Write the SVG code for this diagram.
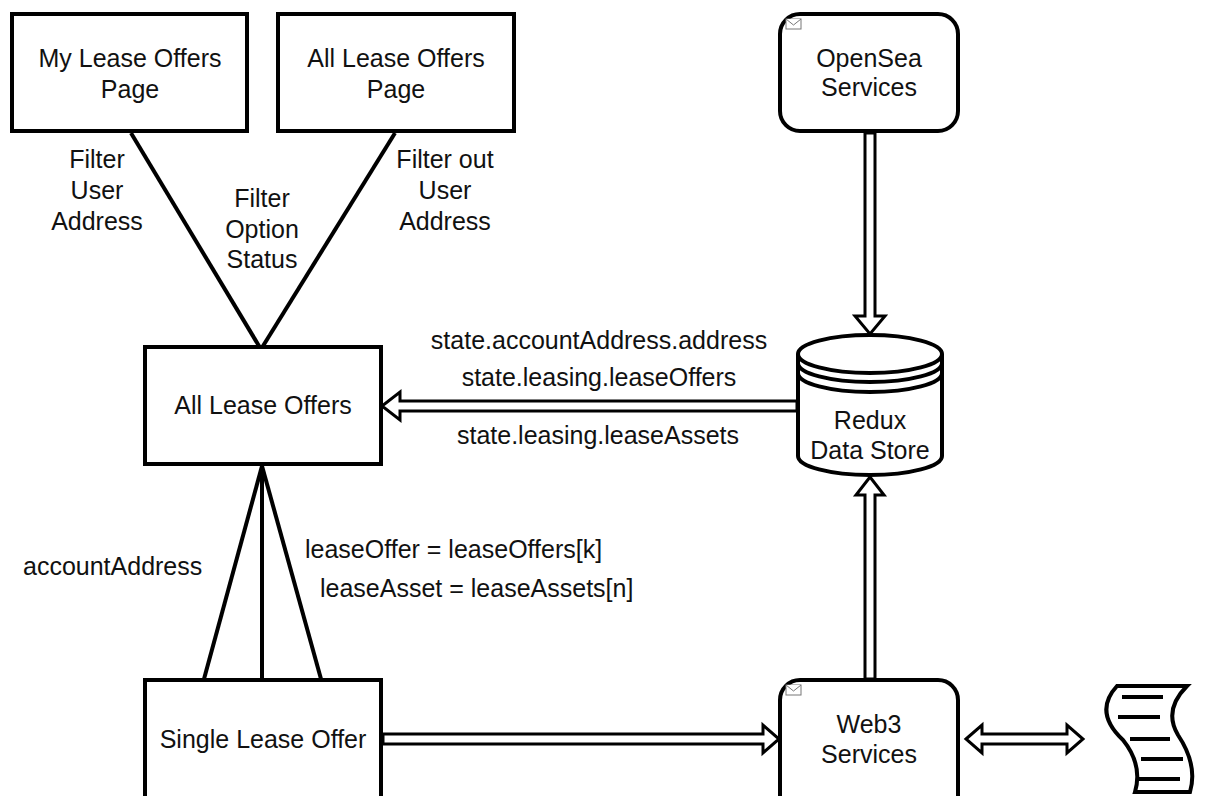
<svg xmlns="http://www.w3.org/2000/svg" width="1210" height="796" viewBox="0 0 1210 796">
<style>
  .box { fill: #ffffff; stroke: #000000; stroke-width: 4; }
  .line { fill: none; stroke: #000000; stroke-width: 4; }
  .flex { fill: #ffffff; stroke: #000000; stroke-width: 3; stroke-linejoin: miter; }
  .env { fill: #ffffff; stroke: #777777; stroke-width: 1; }
  .t { font-family: "Liberation Sans", Arial, sans-serif; font-size: 25px; fill: #111111; text-anchor: middle; }
  .ts { font-family: "Liberation Sans", Arial, sans-serif; font-size: 25px; fill: #111111; text-anchor: start; }
</style>
<rect width="1210" height="796" fill="#ffffff"/>

<g id="connectors">
  <line class="line" x1="131" y1="133" x2="259" y2="346"/>
  <line class="line" x1="395" y1="133" x2="263" y2="346"/>
  <line class="line" x1="262" y1="466" x2="204" y2="679"/>
  <line class="line" x1="262" y1="466" x2="262" y2="679"/>
  <line class="line" x1="262" y1="466" x2="321" y2="679"/>
  <polygon class="flex" points="797,401 400,401 400,392 382,406 400,420 400,411 797,411"/>
  <polygon class="flex" points="865,133 865,316 855,316 870,334 885,316 875,316 875,133"/>
  <polygon class="flex" points="865,679 865,495 856,495 870,477 884,495 875,495 875,679"/>
  <polygon class="flex" points="383,734 763,734 763,725 779,739 763,753 763,744 383,744"/>
  <polygon class="flex" points="966,739 982,725 982,734 1067,734 1067,725 1083,739 1067,753 1067,744 982,744 982,753"/>
  <text class="t" x="97" y="168">Filter</text>
  <text class="t" x="97" y="199">User</text>
  <text class="t" x="97" y="230">Address</text>
  <text class="t" x="262" y="207">Filter</text>
  <text class="t" x="262" y="238">Option</text>
  <text class="t" x="262" y="268">Status</text>
  <text class="t" x="445" y="168">Filter out</text>
  <text class="t" x="445" y="199">User</text>
  <text class="t" x="445" y="230">Address</text>
  <text class="t" x="599" y="349">state.accountAddress.address</text>
  <text class="t" x="599" y="386">state.leasing.leaseOffers</text>
  <text class="t" x="598" y="444">state.leasing.leaseAssets</text>
  <text class="ts" x="23" y="575">accountAddress</text>
  <text class="ts" x="305" y="558">leaseOffer = leaseOffers[k]</text>
  <text class="ts" x="320" y="597">leaseAsset = leaseAssets[n]</text>
</g>

<g id="my-lease-offers-page">
  <rect class="box" x="12" y="14" width="235" height="117"/>
  <text class="t" x="130" y="67">My Lease Offers</text>
  <text class="t" x="130" y="98">Page</text>
</g>

<g id="all-lease-offers-page">
  <rect class="box" x="278" y="14" width="236" height="117"/>
  <text class="t" x="396" y="67">All Lease Offers</text>
  <text class="t" x="396" y="98">Page</text>
</g>

<g id="opensea-services">
  <rect class="box" x="780" y="14" width="178" height="117" rx="20" ry="20"/>
  <g class="env-icon">
    <rect class="env" x="786" y="19" width="15" height="10"/>
    <polyline class="env" points="786,19 793.5,25 801,19"/>
  </g>
  <text class="t" x="869" y="67">OpenSea</text>
  <text class="t" x="869" y="96">Services</text>
</g>

<g id="all-lease-offers">
  <rect class="box" x="145" y="347" width="236" height="117"/>
  <text class="t" x="263" y="414">All Lease Offers</text>
</g>

<g id="redux-data-store">
  <path class="box" d="M798,354 A72,19 0 0 1 942,354 L942,456 A72,19 0 0 1 798,456 Z"/>
  <path class="line" d="M798,354 A72,19 0 0 0 942,354"/>
  <path class="line" d="M798,363 A72,19 0 0 0 942,363"/>
  <path class="line" d="M798,373 A72,19 0 0 0 942,373"/>
  <text class="t" x="870" y="429">Redux</text>
  <text class="t" x="870" y="459">Data Store</text>
</g>

<g id="single-lease-offer">
  <rect class="box" x="145" y="680" width="236" height="140"/>
  <text class="t" x="263" y="748">Single Lease Offer</text>
</g>

<g id="web3-services">
  <rect class="box" x="780" y="680" width="178" height="140" rx="20" ry="20"/>
  <g class="env-icon">
    <rect class="env" x="786" y="685" width="15" height="10"/>
    <polyline class="env" points="786,685 793.5,691 801,685"/>
  </g>
  <text class="t" x="869" y="733">Web3</text>
  <text class="t" x="869" y="763">Services</text>
</g>

<g id="contract-document">
  <path class="box" d="M1117,686 L1187,686 Q1163,710 1178,735 Q1198,765 1190,792 L1135,792 Q1143,765 1123,740 Q1093,712 1117,686 Z"/>
  <line class="line" x1="1122" y1="697" x2="1163" y2="697"/>
  <line class="line" x1="1118" y1="717" x2="1160" y2="717"/>
  <line class="line" x1="1130" y1="739" x2="1170" y2="739"/>
  <line class="line" x1="1141" y1="759" x2="1183" y2="759"/>
  <line class="line" x1="1138" y1="779" x2="1180" y2="779"/>
</g>
</svg>
